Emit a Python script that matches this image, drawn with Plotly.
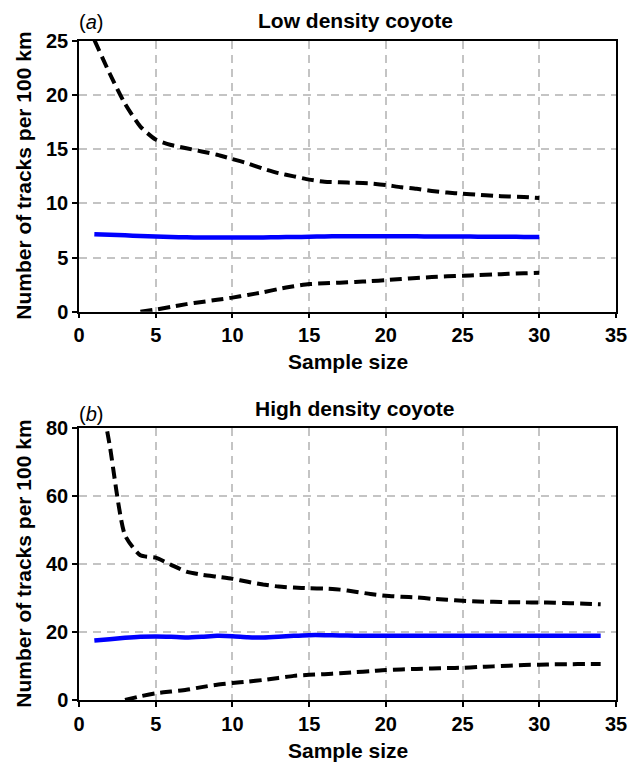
import plotly.graph_objects as go
from plotly.subplots import make_subplots

# Low density coyote: mean and confidence bounds by sample size
low_n = list(range(1, 31))
low_mean = [7.15, 7.1, 7.05, 7.0, 6.95, 6.9, 6.87, 6.85, 6.85, 6.85,
            6.85, 6.86, 6.88, 6.9, 6.92, 6.95, 6.97, 6.98, 6.98, 6.98,
            6.97, 6.96, 6.95, 6.95, 6.94, 6.93, 6.92, 6.92, 6.91, 6.9]
low_upper = [25.1, 22.0, 19.2, 17.1, 15.9, 15.4, 15.1, 14.8, 14.5, 14.1,
             13.7, 13.2, 12.8, 12.5, 12.2, 12.0, 11.95, 11.9, 11.85, 11.7,
             11.5, 11.35, 11.15, 11.0, 10.9, 10.8, 10.7, 10.65, 10.6, 10.5]
low_lower_n = list(range(4, 31))
low_lower = [0.0, 0.2, 0.45, 0.7, 0.9, 1.1, 1.3, 1.55, 1.8, 2.1,
             2.35, 2.55, 2.62, 2.68, 2.75, 2.82, 2.92, 3.02, 3.12, 3.2,
             3.27, 3.32, 3.38, 3.44, 3.5, 3.55, 3.6]

# High density coyote
high_n = list(range(1, 35))
high_mean = [17.5, 17.9, 18.3, 18.6, 18.7, 18.6, 18.4, 18.6, 18.9, 18.8,
             18.5, 18.4, 18.6, 18.9, 19.1, 19.1, 19.0, 18.95, 18.9, 18.9,
             18.9, 18.9, 18.9, 18.9, 18.9, 18.9, 18.9, 18.9, 18.95, 18.95,
             18.95, 18.95, 18.95, 18.95]
high_upper = [100.0, 75.0, 48.5, 42.6, 41.9, 39.8, 37.8, 36.9, 36.3, 35.7,
              34.8, 34.0, 33.4, 33.1, 32.9, 32.8, 32.5, 31.9, 31.2, 30.7,
              30.4, 30.2, 29.8, 29.5, 29.2, 29.0, 28.9, 28.8, 28.75, 28.7,
              28.65, 28.5, 28.35, 28.2]
high_lower_n = list(range(3, 35))
high_lower = [0.0, 1.1, 2.0, 2.5, 3.0, 3.8, 4.5, 5.0, 5.4, 5.9,
              6.5, 7.1, 7.4, 7.6, 7.9, 8.2, 8.5, 8.85, 9.0, 9.15,
              9.3, 9.4, 9.5, 9.7, 9.9, 10.1, 10.3, 10.4, 10.5, 10.55,
              10.6, 10.6]

panel_titles = ["Low density coyote", "High density coyote"]
panel_tags = ["(<i>a</i>)", "(<i>b</i>)"]
x_title = "Sample size"
y_title = "Number of tracks per 100 km"

FONT = "Liberation Sans, Arial, Helvetica, sans-serif"
DASH = "12px,6px"

fig = make_subplots(rows=2, cols=1, vertical_spacing=0.0)

panels = [
    (low_n, low_mean, low_upper, low_lower_n, low_lower),
    (high_n, high_mean, high_upper, high_lower_n, high_lower),
]
for i, (n, mean, up, ln, lo) in enumerate(panels, start=1):
    fig.add_trace(go.Scatter(x=n, y=up, mode="lines",
                             line=dict(color="black", width=4, dash=DASH,
                                       shape="spline", smoothing=0.6)),
                  row=i, col=1)
    fig.add_trace(go.Scatter(x=ln, y=lo, mode="lines",
                             line=dict(color="black", width=4, dash=DASH,
                                       shape="spline", smoothing=0.6)),
                  row=i, col=1)
    fig.add_trace(go.Scatter(x=n, y=mean, mode="lines",
                             line=dict(color="#0000ff", width=4.5,
                                       shape="spline", smoothing=0.6)),
                  row=i, col=1)

axis_common = dict(
    showline=True, linecolor="black", linewidth=1.5, mirror=True,
    ticks="outside", ticklen=5, tickwidth=1.5, tickcolor="black",
    showgrid=True, gridcolor="#c4c4c4", gridwidth=1.5, griddash="8px,6px",
    zeroline=False,
    tickfont=dict(family=FONT, size=20, color="black", weight="bold"),
)

fig.update_xaxes(range=[0, 35], dtick=5, tick0=0, **axis_common)
fig.update_yaxes(**axis_common)
fig.update_yaxes(range=[0, 25], dtick=5, row=1, col=1)
fig.update_yaxes(range=[0, 80], dtick=20, row=2, col=1)

fig.update_layout(
    width=639, height=762,
    margin=dict(l=79, r=16, t=41, b=62),
    plot_bgcolor="white", paper_bgcolor="white",
    showlegend=False,
    xaxis=dict(domain=[0, 1]),
    yaxis=dict(domain=[0.5892, 1.0]),
    yaxis2=dict(domain=[0.0, 0.4123]),
)

# panel titles, tags and axis titles (positions in pixels relative to plot area)
H = 762 - 41 - 62
W = 639 - 79 - 16


def px_x(p):
    return (p - 79) / W


def px_y(p):
    return 1 - (p - 41) / H


title_y = [20.7, 408.5]
tag_y = [22.5, 413.5]
xlab_y = [361.7, 750.0]
ylab_y = [176.0, 564.0]
for k in range(2):
    fig.add_annotation(text="<b>" + panel_titles[k] + "</b>", xref="paper", yref="paper",
                       x=px_x(359), y=px_y(title_y[k]), showarrow=False,
                       xanchor="center", yanchor="middle",
                       font=dict(family=FONT, size=21, color="black"))
    fig.add_annotation(text=panel_tags[k], xref="paper", yref="paper",
                       x=px_x(91.5), y=px_y(tag_y[k]), showarrow=False,
                       xanchor="center", yanchor="middle",
                       font=dict(family=FONT, size=20, color="black"))
    fig.add_annotation(text="<b>" + x_title + "</b>", xref="paper", yref="paper",
                       x=px_x(351), y=px_y(xlab_y[k]), showarrow=False,
                       xanchor="center", yanchor="middle",
                       font=dict(family=FONT, size=21, color="black"))
    fig.add_annotation(text="<b>" + y_title + "</b>", xref="paper", yref="paper",
                       x=px_x(22), y=px_y(ylab_y[k]), showarrow=False,
                       textangle=-90, xanchor="center", yanchor="middle",
                       font=dict(family=FONT, size=21, color="black"))

fig.write_html("out.html")
